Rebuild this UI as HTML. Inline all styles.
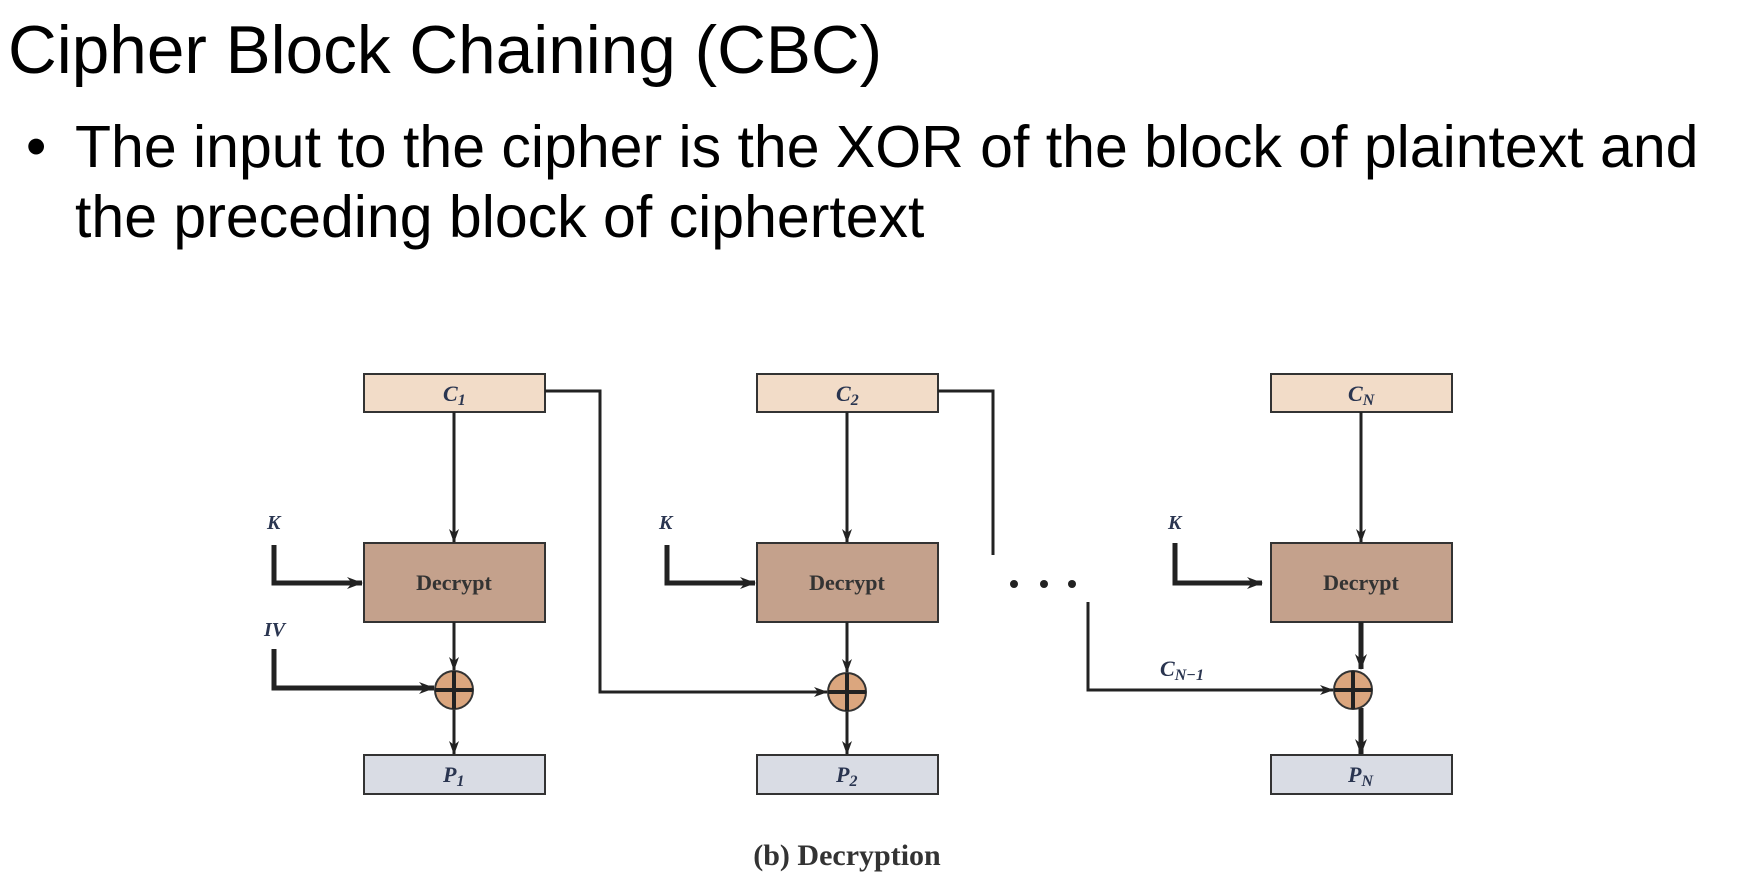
<!DOCTYPE html>
<html><head><meta charset="utf-8"><style>
body{margin:0;width:1742px;height:890px;background:#fff;overflow:hidden;position:relative;font-family:"Liberation Sans",sans-serif;}
.t{position:absolute;white-space:nowrap;color:#000;}
</style></head><body>
<div class="t" style="left:8px;top:17px;font-size:67.5px;line-height:1;">Cipher Block Chaining (CBC)</div>
<div class="t" style="left:26px;top:112px;font-size:58px;line-height:70px;">•</div>
<div class="t" style="left:75px;top:112px;font-size:59px;line-height:70px;">The input to the cipher is the XOR of the block of plaintext and<br>the preceding block of ciphertext</div>
<svg width="1742" height="890" style="position:absolute;left:0;top:0" font-family="Liberation Serif,serif">
<defs><marker id="a" markerWidth="14" markerHeight="10" refX="13" refY="5" orient="auto" markerUnits="userSpaceOnUse" viewBox="0 0 14 10"><path d="M0,0 L14,5 L0,10 L4,5z" fill="#222"/></marker>
<marker id="b" markerWidth="16" markerHeight="12" refX="15" refY="6" orient="auto" markerUnits="userSpaceOnUse" viewBox="0 0 16 12"><path d="M0,0 L16,6 L0,12 L5,6z" fill="#222"/></marker></defs>
<g stroke="#333" stroke-width="2">
<rect x="364" y="374" width="181" height="38" fill="#f2dcc8"/>
<rect x="757" y="374" width="181" height="38" fill="#f2dcc8"/>
<rect x="1271" y="374" width="181" height="38" fill="#f2dcc8"/>
<rect x="364" y="543" width="181" height="79" fill="#c4a18c"/>
<rect x="757" y="543" width="181" height="79" fill="#c4a18c"/>
<rect x="1271" y="543" width="181" height="79" fill="#c4a18c"/>
<rect x="364" y="755" width="181" height="39" fill="#d9dce4"/>
<rect x="757" y="755" width="181" height="39" fill="#d9dce4"/>
<rect x="1271" y="755" width="181" height="39" fill="#d9dce4"/>
</g>
<g stroke="#222" fill="none">
<g stroke-width="3">
<line x1="454" y1="412" x2="454" y2="542" marker-end="url(#a)"/>
<line x1="847" y1="412" x2="847" y2="542" marker-end="url(#a)"/>
<line x1="1361" y1="412" x2="1361" y2="542" marker-end="url(#a)"/>
<line x1="454" y1="622" x2="454" y2="670" marker-end="url(#a)"/>
<line x1="847" y1="622" x2="847" y2="672" marker-end="url(#a)"/>
<line x1="454" y1="708" x2="454" y2="754" marker-end="url(#a)"/>
<line x1="847" y1="710" x2="847" y2="754" marker-end="url(#a)"/>
</g>
<g stroke-width="5">
<line x1="1361" y1="622" x2="1361" y2="669" marker-end="url(#b)"/>
<line x1="1361" y1="708" x2="1361" y2="754" marker-end="url(#b)"/>
<polyline points="274,545 274,583 362,583" marker-end="url(#b)"/>
<polyline points="667,545 667,583 755,583" marker-end="url(#b)"/>
<polyline points="1175,543 1175,583 1262,583" marker-end="url(#b)"/>
<polyline points="274,649 274,688 434,688" marker-end="url(#b)"/>
</g>
<g stroke-width="3">
<polyline points="545,391 600,391 600,692 827,692" marker-end="url(#a)"/>
<polyline points="938,391 993,391 993,555"/>
<polyline points="1088,602 1088,690 1333,690" marker-end="url(#a)"/>
</g>
</g>
<g stroke="#333" stroke-width="2" fill="#dba67e">
<circle cx="454" cy="690" r="19"/><circle cx="847" cy="692" r="19"/><circle cx="1353" cy="690" r="19"/>
</g>
<g stroke="#222" stroke-width="4">
<line x1="435" y1="690" x2="473" y2="690"/><line x1="454" y1="671" x2="454" y2="709"/>
<line x1="828" y1="692" x2="866" y2="692"/><line x1="847" y1="673" x2="847" y2="711"/>
<line x1="1334" y1="690" x2="1372" y2="690"/><line x1="1353" y1="671" x2="1353" y2="709"/>
</g>
<g fill="#222"><circle cx="1014" cy="584" r="4"/><circle cx="1044" cy="584" r="4"/><circle cx="1072" cy="584" r="4"/></g>
<g font-size="22" font-weight="bold" fill="#333" text-anchor="middle">
<text x="454" y="590">Decrypt</text><text x="847" y="590">Decrypt</text><text x="1361" y="590">Decrypt</text>
</g>
<g font-size="22" font-style="italic" font-weight="bold" fill="#2a3550">
<text x="443" y="401">C<tspan font-size="16" dy="4">1</tspan></text>
<text x="836" y="401">C<tspan font-size="16" dy="4">2</tspan></text>
<text x="1348" y="401">C<tspan font-size="16" dy="4">N</tspan></text>
<text x="443" y="782">P<tspan font-size="16" dy="4">1</tspan></text>
<text x="836" y="782">P<tspan font-size="16" dy="4">2</tspan></text>
<text x="1348" y="782">P<tspan font-size="16" dy="4">N</tspan></text>
<text x="267" y="529" font-size="20">K</text>
<text x="659" y="529" font-size="20">K</text>
<text x="1168" y="529" font-size="20">K</text>
<text x="264" y="636" font-size="20">IV</text>
<text x="1160" y="676">C<tspan font-size="16" dy="4">N−1</tspan></text>
</g>
<text x="847" y="865" font-size="30" font-weight="bold" fill="#333" text-anchor="middle">(b) Decryption</text>
</svg>
</body></html>
